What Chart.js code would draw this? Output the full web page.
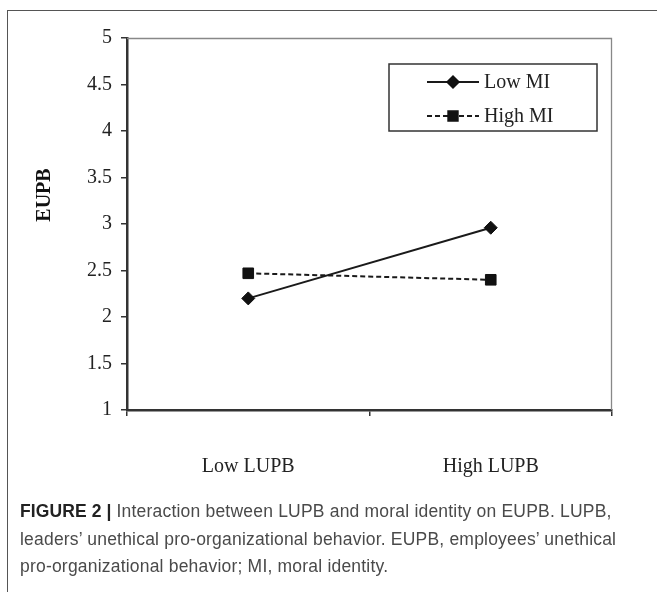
<!DOCTYPE html>
<html>
<head>
<meta charset="utf-8">
<script src="https://cdn.jsdelivr.net/npm/chart.js@4.4.1/dist/chart.umd.min.js"></script>
<style>
  html, body { margin: 0; padding: 0; background: #fff; }
  #wrap { position: relative; width: 657px; height: 592px; overflow: hidden; }
  #frame { position: absolute; left: 7px; top: 10px; width: 700px; height: 700px;
           border-left: 1.5px solid #555; border-top: 1.5px solid #555; box-sizing: border-box; }
  #chartBox { position: absolute; left: 0; top: 0; width: 657px; height: 592px; }
  #caption { position: absolute; left: 20px; top: 498px; width: 640px; white-space: nowrap;
             font-family: "Liberation Sans", Arial, sans-serif; font-size: 17.5px; line-height: 27.5px;
             color: #4a4a4a; letter-spacing: 0.2px; }
  #caption b { color: #222; letter-spacing: 0.1px; }
</style>
</head>
<body>
<div id="wrap">
  <div id="frame"></div>
  <div id="chartBox"><canvas id="c" width="657" height="592"></canvas></div>
  <div id="caption"><b>FIGURE 2 |</b> Interaction between LUPB and moral identity on EUPB. LUPB,<br>leaders’ unethical pro-organizational behavior. EUPB, employees’ unethical<br>pro-organizational behavior; MI, moral identity.</div>
</div>
<script>
const categories = ["Low LUPB", "High LUPB"];
const lowMI = [2.2, 2.96];
const highMI = [2.47, 2.4];
const seriesNames = ["Low MI", "High MI"];
const yTicks = [1, 1.5, 2, 2.5, 3, 3.5, 4, 4.5, 5];
const yTitle = "EUPB";

const serif = "'Liberation Serif', 'Times New Roman', serif";

const plotFrame = {
  id: 'plotFrame',
  afterDraw(chart) {
    const ctx = chart.ctx;
    const a = chart.chartArea;
    ctx.save();
    ctx.strokeStyle = '#888';
    ctx.lineWidth = 1.3;
    ctx.beginPath();
    ctx.moveTo(a.left, a.top + 0.5);
    ctx.lineTo(a.right - 0.5, a.top + 0.5);
    ctx.lineTo(a.right - 0.5, a.bottom);
    ctx.stroke();

    // y-axis title
    ctx.save();
    ctx.translate(45, 195);
    ctx.rotate(-Math.PI / 2);
    ctx.fillStyle = '#111';
    ctx.font = 'bold 20px ' + serif;
    ctx.textAlign = 'center';
    ctx.textBaseline = 'middle';
    ctx.fillText(yTitle, 0, 0);
    ctx.restore();

    // legend box
    const bx = 389, by = 64, bw = 208, bh = 67;
    ctx.strokeStyle = '#333';
    ctx.lineWidth = 1.5;
    ctx.strokeRect(bx, by, bw, bh);
    const rows = [82, 116];
    chart.data.datasets.forEach((ds, i) => {
      const y = rows[i];
      ctx.save();
      ctx.strokeStyle = ds.borderColor;
      ctx.lineWidth = ds.borderWidth;
      ctx.setLineDash(ds.borderDash || []);
      ctx.beginPath();
      ctx.moveTo(427, y);
      ctx.lineTo(479, y);
      ctx.stroke();
      ctx.restore();
      ctx.fillStyle = '#111';
      ctx.strokeStyle = '#111';
      Chart.helpers.drawPoint(ctx, {
        pointStyle: ds.pointStyle, radius: ds.pointRadius - 0.5, borderWidth: 1,
        rotation: 0
      }, 453, y);
      ctx.fillStyle = '#222';
      ctx.font = '20px ' + serif;
      ctx.textBaseline = 'middle';
      ctx.textAlign = 'left';
      ctx.fillText(ds.label, 484, y + 1);
    });
    ctx.restore();
  }
};

new Chart(document.getElementById('c'), {
  type: 'line',
  data: {
    labels: categories,
    datasets: [
      { label: seriesNames[0], data: lowMI, borderColor: '#1a1a1a', backgroundColor: '#111',
        borderWidth: 2, pointStyle: 'rectRot', pointRadius: 6.5, pointBorderWidth: 1,
        pointBackgroundColor: '#111', pointBorderColor: '#111' },
      { label: seriesNames[1], data: highMI, borderColor: '#1a1a1a', backgroundColor: '#111',
        borderWidth: 2, borderDash: [5, 3], pointStyle: 'rect', pointRadius: 7.5, pointBorderWidth: 1,
        pointBackgroundColor: '#111', pointBorderColor: '#111' }
    ]
  },
  options: {
    responsive: false,
    animation: false,
    layout: { padding: { left: 0, top: 38, right: 45, bottom: 0 } },
    plugins: { legend: { display: false }, tooltip: { enabled: false } },
    scales: {
      x: {
        type: 'category',
        offset: true,
        afterFit(s) { s.height = 182; },
        grid: { offset: true, drawOnChartArea: false, drawTicks: true, tickLength: 6, color: '#333', lineWidth: 1.5 },
        border: { display: true, color: '#333', width: 2.5 },
        ticks: { color: '#222', font: { family: serif, size: 20 }, padding: 39 }
      },
      y: {
        min: 1, max: 5,
        afterFit(s) { s.width = 127; },
        afterBuildTicks(s) { s.ticks = yTicks.map(v => ({ value: v })); },
        grid: { drawOnChartArea: false, drawTicks: true, tickLength: 6, color: '#333', lineWidth: 1.5 },
        border: { display: true, color: '#333', width: 2.5 },
        ticks: { color: '#222', font: { family: serif, size: 20 }, padding: 9,
                 callback: v => String(v) }
      }
    }
  },
  plugins: [plotFrame]
});
</script>
</body>
</html>
